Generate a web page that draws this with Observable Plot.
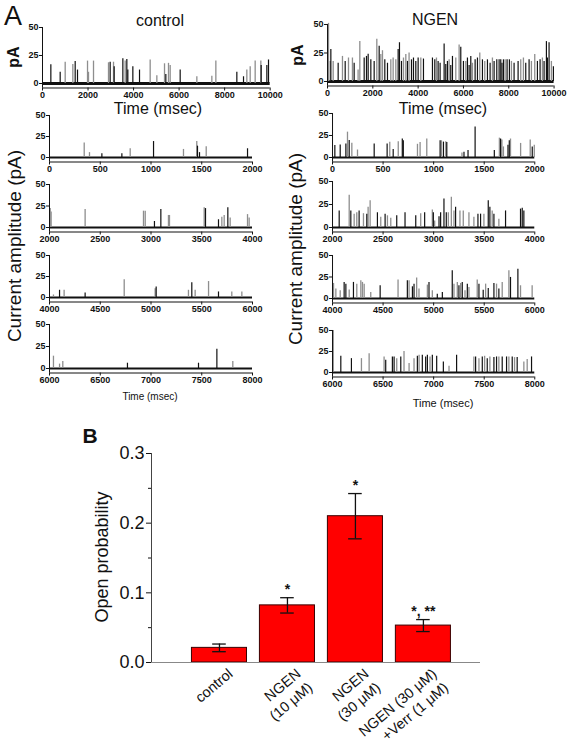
<!DOCTYPE html>
<html>
<head>
<meta charset="utf-8">
<script src="https://cdn.jsdelivr.net/npm/d3@7"></script>
<script src="https://cdn.jsdelivr.net/npm/@observablehq/plot@0.6"></script>
<style>
  html, body { margin: 0; padding: 0; background: #fff; }
  #fig { position: relative; width: 567px; height: 747px; overflow: hidden; background: #fff;
         font-family: 'Liberation Sans', Arial, Helvetica, sans-serif; color: #111; }
  .lbl { position: absolute; white-space: nowrap; line-height: 1; }
  #fig svg { position: absolute; }
</style>
</head>
<body>
<div id="fig"></div>
<script>
// ---------------- DATA ----------------
// spikes: [time (ms), amplitude (pA), trace (1 = black, 0 = grey)]
const ctrlFull = [[366,16.8,1],[776,10,1],[996,19,0],[1332,17,0],[1435,19.7,1],[1537,12,1],[1977,20,0],[2020,10,0],[2240,20,0],[2899,18.5,0],[2972,19,1],[3119,19,0],[3148,15,1],[3529,22,1],[3631,20,0],[3704,21.5,1],[3748,12,1],[3968,15,1],[4261,12,1],[4729,21,0],[5022,7,0],[5359,17.6,0],[5417,8,1],[5534,18,0],[5608,16,0],[6047,12,1],[6779,6,0],[7438,6.5,0],[7614,20,0],[8536,10,1],[8829,6,1],[8975,12,0],[9122,15,0],[9341,20,0],[9590,20,0],[9605,16,1],[9854,16,1],[9927,21,1]];
const ngenFull = [[44,51,0],[118,17.6,0],[147,28,1],[250,17.6,0],[470,16,1],[660,22,0],[780,17.6,1],[926,20.6,0],[1100,20.6,0],[1176,16,1],[1350,10,0],[1426,35,0],[1618,20.6,1],[1720,22,1],[1794,24,1],[1912,19,1],[2059,17.6,1],[2176,37,0],[2280,31,1],[2353,23.6,0],[2426,27,0],[2529,19,1],[2647,16,1],[2794,19,0],[2897,20.6,0],[3015,19,0],[3118,28,1],[3176,34,1],[3265,17.6,1],[3353,20.6,0],[3456,23.6,0],[3529,17.6,1],[3600,25,0],[3706,19,1],[3794,20.6,1],[3897,17.6,1],[4000,20.6,1],[4118,20.6,0],[4235,19.7,1],[4632,20.6,1],[4735,19,1],[4809,20.6,0],[4882,17.6,1],[4970,16,1],[5147,33,1],[5220,15,1],[5294,17.6,1],[5368,19,0],[5440,14,1],[5515,22,1],[5662,20.6,0],[5809,32,0],[5882,30,1],[6000,17.6,1],[6103,17.6,0],[6176,20.6,1],[6250,14,1],[6324,22,1],[6397,16,0],[6515,19,1],[6618,20.6,1],[6721,25,0],[6838,19,1],[6941,17.6,0],[7059,19,1],[7176,16,1],[7279,20.6,0],[7353,17.6,1],[7471,19,1],[7574,19,1],[7647,19,1],[7700,16,1],[7765,19,1],[7838,19,0],[7926,19,1],[8029,19,1],[8118,17.6,0],[8235,16,1],[8412,17.6,1],[8529,19,0],[8647,20.6,0],[8750,16,1],[8897,19,1],[9000,17.6,0],[9147,23.6,0],[9265,17.6,1],[9382,19,1],[9485,20.6,0],[9559,17.6,1],[9662,35,1],[9706,20.6,1],[9779,34,1],[9882,17.6,0],[9970,13,1]];

const ctrlR2 = [[342,17.3,0],[394,5.8,0],[516,4.6,1],[713,4.6,1],[795,10.4,0],[1025,19,1],[1320,9.6,0],[1451,19,0],[1458,13.5,1],[1478,5.8,1],[1544,12.7,0],[1951,10.4,1]];
const ctrlR3 = [[2007,22,0],[2016,18,0],[2351,21,0],[2926,19,0],[2943,19,0],[3034,7,1],[3097,21,1],[3172,14,0],[3182,14,0],[3524,23,0],[3537,22,1],[3665,9,1],[3698,12,0],[3721,14,0],[3757,23,1],[3780,11,0],[3951,15,0],[3967,11,0]];
const ctrlR4 = [[4039,3,0],[4099,8.6,1],[4144,8.6,0],[4351,5.5,1],[4736,21,0],[5041,10.5,0],[5051,12.5,1],[5369,8.6,0],[5402,17.6,1],[5435,8.6,0],[5567,19,0],[5665,6.6,1],[5796,6.6,0],[5895,6.6,0]];
const ctrlR5 = [[6039,14,0],[6099,5,0],[6131,8,0],[6768,6,1],[7468,6,1],[7649,22,1],[7806,8,0]];

const ngenR2 = [[23,13.5,1],[76,14.2,1],[132,15.4,1],[148,28.8,0],[165,19.2,1],[191,16.2,0],[247,8.5,0],[412,15.4,1],[540,15.4,1],[566,17.3,0],[600,9,1],[650,18,0],[690,21,1],[700,19,1],[840,15,0],[866,17,0],[932,21,0],[1064,19,1],[1077,19,0],[1097,17.5,1],[1120,18,0],[1130,17,1],[1280,5,0],[1300,6,1],[1340,8,1],[1410,34.6,1],[1600,8,1],[1650,22,0],[1662,21,1],[1675,20,0],[1690,12,0],[1735,14,1],[1748,19,1],[1760,21,0],[1860,16,0],[1955,20,0],[1975,12,1],[1995,14,0]];
const ngenR3 = [[2066,18,1],[2165,35,0],[2181,18,1],[2214,14.5,0],[2240,16,0],[2263,18,1],[2306,15,0],[2339,14.5,1],[2352,22,0],[2372,29,0],[2444,16,1],[2477,11,0],[2520,14.5,1],[2543,12.7,0],[2576,10,0],[2635,12.7,1],[2717,16,1],[2823,12.7,1],[2872,15,0],[2911,16,1],[2987,19,0],[2997,16,1],[3010,7,0],[3053,11.6,1],[3069,16,1],[3102,31,1],[3125,16,1],[3145,16,0],[3175,33,0],[3201,18,0],[3217,22,1],[3260,18,0],[3293,18,0],[3349,16,0],[3398,11,0],[3438,14.5,1],[3464,14.5,1],[3497,14.5,0],[3540,29,1],[3556,22,1],[3579,18,0],[3596,14.5,1],[3645,9,0],[3711,18,1],[3859,20,1],[3876,21,1],[3892,18,1]];
const ngenR4 = [[4010,17.5,0],[4033,11,0],[4076,9,0],[4115,18.7,1],[4132,16.7,1],[4165,10,0],[4207,18.7,1],[4240,16.7,0],[4280,20.6,0],[4296,18.7,0],[4313,16.7,0],[4378,7,0],[4471,14.8,1],[4648,21.4,0],[4740,20.6,1],[4757,20.6,0],[4790,13.6,1],[4806,16.7,1],[4832,23.7,0],[4855,11,0],[4938,15.6,0],[4954,18.7,1],[4987,9,0],[5036,5,1],[5086,7,1],[5184,32.3,1],[5201,16.7,0],[5234,18.7,0],[5250,14.8,1],[5267,17.5,0],[5283,18.7,1],[5310,9,0],[5333,16.7,1],[5349,12.8,0],[5431,21.4,0],[5448,16.7,1],[5490,9.7,1],[5514,16.7,0],[5540,11.7,1],[5596,17.5,1],[5622,16.7,0],[5645,11,1],[5678,18.7,0],[5744,32.3,0],[5760,24.5,1],[5833,34,1],[5859,14.8,0],[5974,14.8,0]];
const ngenR5 = [[6007,50,0],[6082,19.3,1],[6187,16.5,1],[6286,16.5,0],[6362,22.4,0],[6510,18.5,0],[6526,14.6,1],[6592,18.5,1],[6609,18.5,1],[6635,16.5,0],[6675,18.5,1],[6707,25,0],[6757,10.6,0],[6806,16.5,0],[6839,19.3,1],[6856,20.5,0],[6888,20.5,1],[6921,18.5,1],[6938,20.5,1],[6964,18.5,0],[6987,20.5,1],[7030,19.3,1],[7096,12.6,1],[7152,7.5,0],[7227,20.5,1],[7398,18.5,0],[7415,18.5,1],[7448,16.5,0],[7481,18.5,1],[7504,19.3,0],[7530,16.5,1],[7556,18.5,0],[7596,17.7,1],[7622,18.5,1],[7645,18.5,0],[7678,18.5,1],[7721,18.5,1],[7744,18.5,0],[7777,18.5,1],[7800,17.7,0],[7826,17.7,1],[7892,12.6,0],[7925,15.4,0],[7968,18.5,1]];

const ticksFull = [0, 2000, 4000, 6000, 8000, 10000];
const ticksR2 = [0, 500, 1000, 1500, 2000];
const ticksR3 = [2000, 2500, 3000, 3500, 4000];
const ticksR4 = [4000, 4500, 5000, 5500, 6000];
const ticksR5 = [6000, 6500, 7000, 7500, 8000];
const ampTicks = [0, 25, 50];

// Panel B
const groups = ["control", "NGEN\n(10 μM)", "NGEN\n(30 μM)", "NGEN (30 μM)\n+Verr (1 μM)"];
const openProb = [0.021, 0.082, 0.210, 0.053];
const openSem = [0.0055, 0.011, 0.0325, 0.0086];
const signif = ["", "*", "*", "*, **"];
const probTicks = [0, 0.1, 0.2, 0.3];
const probMinor = [0.05, 0.15, 0.25];

// ---------------- DRAWING ----------------
const FONT = "'Liberation Sans', Arial, Helvetica, sans-serif";
const GREY = "#8e8e8e", INK = "#111";
const fig = document.getElementById("fig");

function place(node, left, top) {
  node.style.left = left + "px";
  node.style.top = top + "px";
  fig.appendChild(node);
}
function label(text, cx, cy, size, weight = "normal", rotate = 0) {
  const d = document.createElement("div");
  d.className = "lbl";
  d.textContent = text;
  d.style.fontSize = size + "px";
  d.style.fontWeight = weight;
  d.style.transform = `translate(-50%,-50%) rotate(${rotate}deg)`;
  place(d, cx, cy);
}

function trace(spikes, domain, ticks, box, lw) {
  const [x0, x1, y50, y0] = box;
  const gap = 4.5;
  const yMin = -50 * gap / (y0 - y50);
  const mL = 30, mR = 18, mT = 6, mB = 16;
  const fw = x1 - x0, fh = (y0 + gap) - y50;
  const pts = spikes.map(([t, a, k]) => ({t, a, k}));
  const svg = Plot.plot({
    width: fw + mL + mR, height: fh + mT + mB,
    marginLeft: mL, marginRight: mR, marginTop: mT, marginBottom: mB,
    x: {domain},
    y: {domain: [yMin, 50]},
    style: {fontFamily: FONT, fontSize: "9px", background: "transparent", overflow: "visible", color: INK},
    marks: [
      Plot.ruleY([0], {stroke: INK, strokeWidth: lw}),
      Plot.ruleX(pts.filter(d => !d.k), {x: "t", y1: () => 0, y2: "a", stroke: GREY, strokeWidth: 1.3}),
      Plot.ruleX(pts.filter(d => d.k), {x: "t", y1: () => 0, y2: "a", stroke: INK, strokeWidth: 1.2}),
      Plot.ruleX([domain[0]], {stroke: INK, strokeWidth: 1}),
      Plot.ruleY([yMin], {stroke: INK, strokeWidth: 1}),
      Plot.axisX({ticks, tickSize: 3, tickPadding: 1, tickFormat: d => String(d), label: null, fontWeight: "bold"}),
      Plot.axisY({ticks: ampTicks, tickSize: 3, tickPadding: 1, label: null, fontWeight: "bold"})
    ]
  });
  place(svg, x0 - mL, y50 - mT);
}

// Panel A traces
trace(ctrlFull, [0, 10000], ticksFull, [42.3, 270, 27, 83], 3);
trace(ngenFull, [0, 10000], ticksFull, [326.7, 553.3, 24, 81], 3);
trace(ctrlR2, [0, 2000], ticksR2, [49.3, 252.3, 115, 157], 2);
trace(ctrlR3, [2000, 4000], ticksR3, [49.3, 252.3, 184, 227], 2);
trace(ctrlR4, [4000, 6000], ticksR4, [49.3, 252.3, 255, 297], 2);
trace(ctrlR5, [6000, 8000], ticksR5, [49.3, 252.3, 324, 368], 2);
trace(ngenR2, [0, 2000], ticksR2, [331.7, 534, 113, 157], 2);
trace(ngenR3, [2000, 4000], ticksR3, [331.7, 534, 181, 227], 2);
trace(ngenR4, [4000, 6000], ticksR4, [331.7, 534, 255, 298], 2);
trace(ngenR5, [6000, 8000], ticksR5, [331.7, 534, 330, 372], 2);

// Panel B bar chart
const bars = groups.map((g, i) => ({pos: i + 1, label: g, v: openProb[i], e: openSem[i], s: signif[i]}));
const bL = 90, bR = 20, bT = 10, bB = 85;
const barsSvg = Plot.plot({
  width: 329 + bL + bR, height: 209 + bT + bB,
  marginLeft: bL, marginRight: bR, marginTop: bT, marginBottom: bB,
  x: {domain: [0, 4.84], axis: null},
  y: {domain: [0, 0.3]},
  style: {fontFamily: FONT, fontSize: "18px", background: "transparent", overflow: "visible", color: INK},
  marks: [
    Plot.rectY(bars, {x1: d => d.pos - 0.405, x2: d => d.pos + 0.405, y: "v", fill: "#ff0000", stroke: "#3a0000", strokeWidth: 1}),
    Plot.ruleX(bars, {x: "pos", y1: d => d.v - d.e, y2: d => d.v + d.e, stroke: INK, strokeWidth: 1.3}),
    Plot.ruleY(bars, {y: d => d.v + d.e, x1: d => d.pos - 0.1, x2: d => d.pos + 0.1, stroke: INK, strokeWidth: 1.3}),
    Plot.ruleY(bars, {y: d => d.v - d.e, x1: d => d.pos - 0.1, x2: d => d.pos + 0.1, stroke: INK, strokeWidth: 1.3}),
    Plot.text(bars, {x: "pos", y: d => d.v + d.e, text: "s", dy: -4, lineAnchor: "bottom", fontSize: 14, fontWeight: "bold"}),
    Plot.ruleY([0], {stroke: "#888", strokeWidth: 1.2}),
    Plot.ruleX([0], {stroke: "#444", strokeWidth: 1}),
    Plot.axisY({ticks: probTicks, tickSize: 5, tickPadding: 2, tickFormat: d3.format(".1f"), label: null}),
    Plot.axisY({ticks: probMinor, tickSize: 3, tickFormat: () => "", label: null}),
    Plot.text(bars, {x: "pos", frameAnchor: "bottom", text: "label", rotate: -40, textAnchor: "end", lineAnchor: "top", dy: 3, dx: 6, fontSize: 14.5, lineHeight: 1.25})
  ]
});
place(barsSvg, 151 - bL, 453 - bT);

// Text annotations
label("A", 13, 16, 27);
label("control", 160, 21, 16);
label("NGEN", 435, 20, 16);
label("pA", 14, 57, 16, "bold", -90);
label("pA", 298, 55, 16, "bold", -90);
label("Time (msec)", 158, 109, 16);
label("Time (msec)", 443, 109, 16);
label("Current amplitude (pA)", 14, 246, 19, "normal", -90);
label("Current amplitude (pA)", 295, 249, 19, "normal", -90);
label("Time (msec)", 150, 397, 10);
label("Time (msec)", 443, 403, 11);
label("B", 90, 435, 21, "bold");
label("Open probability", 102, 557, 18, "normal", -90);
</script>
</body>
</html>
